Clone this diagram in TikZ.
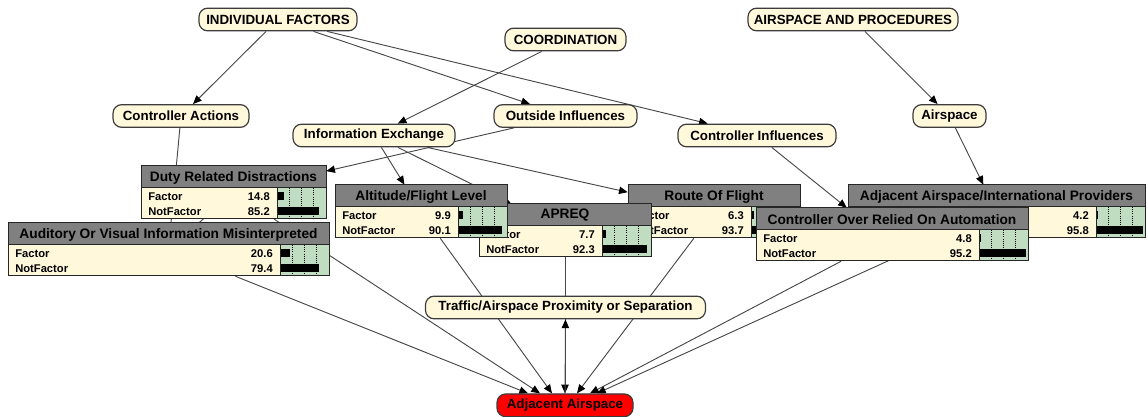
\documentclass[tikz,border=0pt]{standalone}
\usepackage{fontspec}
\setmainfont{Liberation Sans}
\usetikzlibrary{arrows.meta,calc,fit,backgrounds}

\definecolor{ovalfill}{RGB}{255,248,218}
\definecolor{ovalline}{RGB}{60,60,60}
\definecolor{headfill}{RGB}{128,128,128}
\definecolor{bodyfill}{RGB}{255,248,218}
\definecolor{barfill}{RGB}{193,221,193}
\definecolor{alertfill}{RGB}{255,0,0}
\definecolor{linkcol}{RGB}{72,72,72}

\tikzset{
  concept/.style={draw=ovalline, line width=0.9pt, fill=ovalfill, rounded corners=6.5pt,
    minimum height=17pt, inner sep=0pt, font=\fontsize{10}{12}\selectfont\bfseries},
  goal/.style={concept, fill=alertfill},
  link/.style={draw=linkcol, line width=0.7pt},
  arr/.style={link, -{Triangle[length=6.5pt,width=5.5pt,color=black]}},
  headtext/.style={font=\fontsize{10.3}{12}\selectfont\bfseries, inner sep=0pt},
  rowtext/.style={font=\fontsize{8.4}{10}\selectfont\bfseries, inner sep=0pt},
  frame/.style={draw=black!85, line width=0.75pt}
}

% Belief box: [#1 row labels shown: 1/0], #2 name, #3 left, #4 top, #5 right,
% #6 title, #7 Factor %, #8 NotFactor %
\newcommand\bnbox[8][1]{%
  \pgfmathsetmacro\bnbarx{#5-49}%
  \pgfmathsetmacro\bnhead{#4+22}%
  \pgfmathsetmacro\bnbot{#4+53}%
  \pgfmathsetmacro\bnmid{(#3+#5)/2}%
  \fill[bodyfill] (#3,\bnhead) rectangle (\bnbarx,\bnbot);
  \fill[barfill] (\bnbarx,\bnhead) rectangle (#5,\bnbot);
  \fill[headfill] (#3,#4) rectangle (#5,\bnhead);
  \foreach \q in {0.25,0.5,0.75}
    \draw[densely dotted, line width=0.6pt] ({\bnbarx+49*\q},\bnhead) -- ({\bnbarx+49*\q},\bnbot);
  \fill ({\bnbarx},{#4+26}) rectangle ({\bnbarx+0.49*#7},{#4+34});
  \fill ({\bnbarx},{#4+41}) rectangle ({\bnbarx+0.49*#8},{#4+49});
  \draw[frame] (#3,\bnhead) -- (#5,\bnhead) (\bnbarx,\bnhead) -- (\bnbarx,\bnbot);
  \draw[frame] (#3,#4) rectangle (#5,\bnbot);
  \node[fit={(#3,#4) (#5,\bnbot)}, inner sep=0pt] (#2) {};
  \node[headtext] at (\bnmid,{#4+11.5}) {#6};
  \ifnum#1=1
    \node[rowtext, anchor=west] at ({#3+7},{#4+31}) {Factor};
    \node[rowtext, anchor=west] at ({#3+7},{#4+46}) {NotFactor};
  \fi
  \node[rowtext, anchor=east] at ({\bnbarx-7},{#4+31}) {#7};
  \node[rowtext, anchor=east] at ({\bnbarx-7},{#4+46}) {#8};
}

\begin{document}
\begin{tikzpicture}[x=0.75pt,y=-0.75pt]
\useasboundingbox (0,0) rectangle (1147,417);

% concept nodes
\node[concept, minimum width=118.5pt] (indf)  at (278,19.5)   {INDIVIDUAL FACTORS};
\node[concept, minimum width=90.75pt] (coord) at (565.5,39.5) {COORDINATION};
\node[concept, minimum width=157.5pt] (aproc) at (853,19.5)   {AIRSPACE AND PROCEDURES};
\node[concept, minimum width=102pt]   (ca)    at (181,116)    {Controller Actions};
\node[concept, minimum width=107.25pt] (oi)   at (565.5,116)  {Outside Influences};
\node[concept, minimum width=121.5pt] (ie)    at (374,135.5)  {Information Exchange};
\node[concept, minimum width=118.5pt] (ci)    at (757,135.5)  {Controller Influences};
\node[concept, minimum width=54.75pt] (asp)   at (949.5,116)  {Airspace};
\node[concept, minimum width=210pt]   (tr)    at (565.5,307.5) {Traffic/Airspace Proximity or Separation};
\node[goal,    minimum width=102pt]   (aa)    at (565,405.3)  {Adjacent Airspace};

% belief boxes, back to front
\bnbox{duty}{141}{166}{326}{Duty Related Distractions}{14.8}{85.2}
\bnbox{aud}{8}{223}{329}{Auditory Or Visual Information Misinterpreted}{20.6}{79.4}
\bnbox{route}{628}{185}{800}{Route Of Flight}{6.3}{93.7}
\bnbox[0]{aaip}{848}{185}{1145}{Adjacent Airspace/International Providers}{4.2}{95.8}
\bnbox{apreq}{479}{204}{651}{APREQ}{7.7}{92.3}
\bnbox{alt}{335}{185}{507}{Altitude/Flight Level}{9.9}{90.1}
\bnbox{cora}{756}{208}{1028}{Controller Over Relied On Automation}{4.8}{95.2}

% entry points on the goal node
\coordinate (t1) at ($(aa.north)+(-37,0)$);
\coordinate (t2) at ($(aa.north)+(-25,0)$);
\coordinate (t3) at ($(aa.north)+(-13,0)$);
\coordinate (t4) at (aa.north);
\coordinate (t5) at ($(aa.north)+(12,0)$);
\coordinate (t6) at ($(aa.north)+(25,0)$);
\coordinate (t7) at ($(aa.north)+(32,0)$);
\coordinate (cit) at ($(cora.north west)+(91,0)$);

\begin{pgfonlayer}{background}
  \draw[arr] (indf) -- (ca);
  \draw[arr] (indf) -- (oi);
  \draw[arr] (indf) -- (ci);
  \draw[arr] (coord) -- (ie);
  \draw[arr] (aproc) -- (asp);
  \draw[arr] (asp) -- (aaip);
  \draw[arr] (oi) -- (duty);
  \draw[arr] (ie) -- (alt);
  \draw[arr] (ie) -- (apreq);
  \draw[arr] (ie) -- (route);
  \draw[arr] (ci) -- (cit);
  \draw[link] (ca) -- (aud.center);
  \draw[link] (duty.center) -- (aud.center);
  \draw[arr] (aud) -- (t1);
  \draw[arr] (duty) -- (t2);
  \draw[arr] (alt) -- (t3);
  \draw[arr] (apreq) -- (t4);
  \draw[arr] (route) -- (t5);
  \draw[arr] (cora) -- (t6);
  \draw[arr] (aaip) -- (t7);
  \draw[arr] (aa) -- (tr);
\end{pgfonlayer}
\end{tikzpicture}
\end{document}
